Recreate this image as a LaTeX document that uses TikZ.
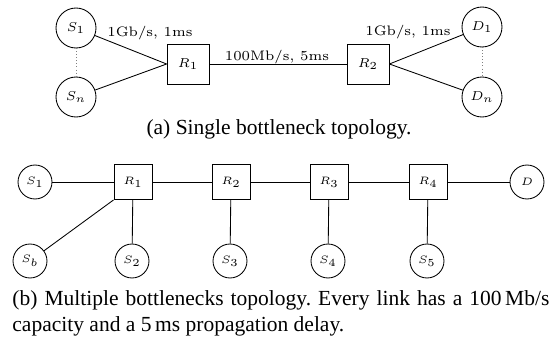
\documentclass[tikz,border=0pt]{standalone}
\usepackage{amsmath,amssymb}
\usepackage{fontspec}
\newfontfamily\capfont{Liberation Serif}
\usetikzlibrary{positioning,calc}
\frenchspacing

\begin{document}
\begin{tikzpicture}[x=0.465pt, y=-0.465pt,
    host/.style={draw, circle, inner sep=0pt, minimum size=18.6pt, font=\fontsize{6.4}{7}\selectfont},
    router/.style={draw, rectangle, inner sep=0pt, minimum width=19.5pt, minimum height=18.6pt, font=\fontsize{6.4}{7}\selectfont},
    shost/.style={host, minimum size=15.8pt, font=\fontsize{5.2}{6}\selectfont},
    srouter/.style={router, minimum width=17.7pt, minimum height=16.3pt, font=\fontsize{5.2}{6}\selectfont},
    link/.style={font=\fontsize{6.4}{7}\selectfont, inner sep=1pt}]
    \useasboundingbox (0,0) rectangle (554,343);

    % single bottleneck
    \node[host] (s1) at (76,28) {$S_1$};
    \node[host] (sn) at (76,97) {$S_n$};
    \node[router] (r1) at (188,64) {$R_1$};
    \node[router] (r2) at (368,64) {$R_2$};
    \node[host] (d1) at (482,27) {$D_1$};
    \node[host] (dn) at (482,97) {$D_n$};

    \draw[densely dotted, gray] (s1) -- (sn);
    \draw[densely dotted, gray] (d1) -- (dn);
    \draw (s1) -- (r1.west);
    \draw (sn) -- (r1.west);
    \draw (r1) -- (r2);
    \draw (r2.east) -- (d1);
    \draw (r2.east) -- (dn);

    \node[link] at (150,33) {1Gb/s, 1ms};
    \node[link] at (277,57) {100Mb/s, 5ms};
    \node[link] at (408,32) {1Gb/s, 1ms};

    \node[font=\capfont\fontsize{10}{12}\selectfont] (capa) at (279,129) {(a) Single bottleneck topology.};

    % multiple bottlenecks
    \node[shost] (b1) at (35,182) {$S_1$};
    \foreach \i/\x in {1/133,2/231,3/329,4/428} {
        \node[srouter] (q\i) at (\x,182) {$R_\i$};
    }
    \node[shost] (d) at (527,182) {$D$};
    \node[shost] (bb) at (30,261) {$S_b$};
    \foreach \i/\j/\x in {1/2/132,2/3/230,3/4/328,4/5/427} {
        \node[shost] (b\j) at (\x,261) {$S_\j$};
        \draw (q\i) -- (b\j);
    }
    \draw (b1) -- (q1);
    \draw (q1) -- (q2);
    \draw (q2) -- (q3);
    \draw (q3) -- (q4);
    \draw (q4) -- (d);
    \draw (q1.south west) -- (bb);

    \node[anchor=north west, inner sep=0pt, text width=249.7pt, align=justify,
        font=\capfont\fontsize{10}{12}\selectfont] (capb) at (12,290)
        {(b) Multiple bottlenecks topology. Every link has a 100\,Mb/s capacity and a 5\,ms propagation delay.};
\end{tikzpicture}
\end{document}
